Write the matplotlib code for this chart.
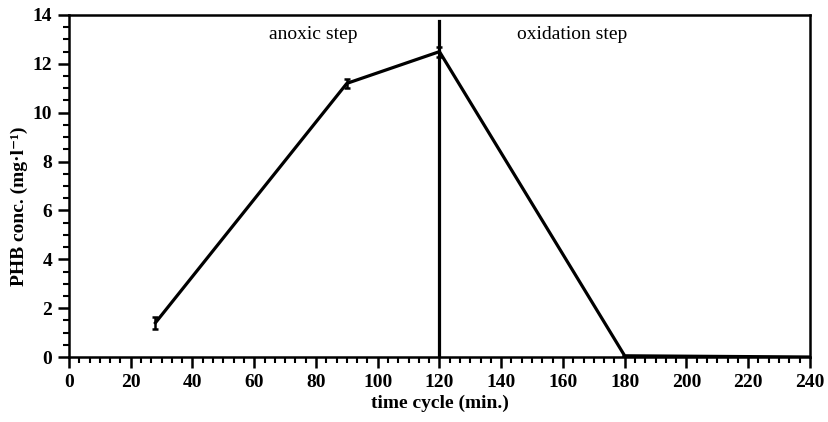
import numpy as np
import matplotlib.pyplot as plt
from matplotlib.ticker import MultipleLocator, AutoMinorLocator

plt.rcParams['font.family'] = ['Liberation Serif', 'DejaVu Serif']

# data
time_min = [28, 90, 120, 180, 240]
phb = [1.4, 11.2, 12.5, 0.05, 0.0]
phb_err = [0.25, 0.2, 0.2, 0.0, 0.0]
step_change = 120
step_labels = ["anoxic step", "oxidation step"]

fig = plt.figure(figsize=(8.29, 4.22), dpi=100)
ax = fig.add_axes([0.0832, 0.154, 0.8938, 0.8105])

ax.errorbar(time_min, phb, yerr=phb_err, color='black', lw=2.3,
            elinewidth=1.8, capsize=2.5, capthick=1.8)
ax.plot([step_change, step_change], [0, 13.75], color='black', lw=2.3)

ax.text(79, 13.2, step_labels[0], fontsize=14, ha='center', va='center')
ax.text(163, 13.2, step_labels[1], fontsize=14, ha='center', va='center')

ax.set_xlim(0, 240)
ax.set_ylim(0, 14)
ax.xaxis.set_major_locator(MultipleLocator(20))
ax.xaxis.set_minor_locator(AutoMinorLocator(6))
ax.yaxis.set_major_locator(MultipleLocator(2))
ax.yaxis.set_minor_locator(AutoMinorLocator(4))
ax.tick_params(which='major', direction='out', length=8, width=1.8, labelsize=14, pad=4)
ax.tick_params(which='minor', direction='out', length=4.5, width=1.5)
for lab in ax.get_xticklabels() + ax.get_yticklabels():
    lab.set_fontweight('bold')
for s in ax.spines.values():
    s.set_linewidth(1.8)

ax.set_xlabel("time cycle (min.)", fontsize=14, fontweight='bold', labelpad=3)
ax.set_ylabel("PHB conc. (mg·l⁻¹)", fontsize=14, fontweight='bold')
ax.yaxis.set_label_coords(-0.055, 0.44)

fig.savefig("out.png", dpi=100)
